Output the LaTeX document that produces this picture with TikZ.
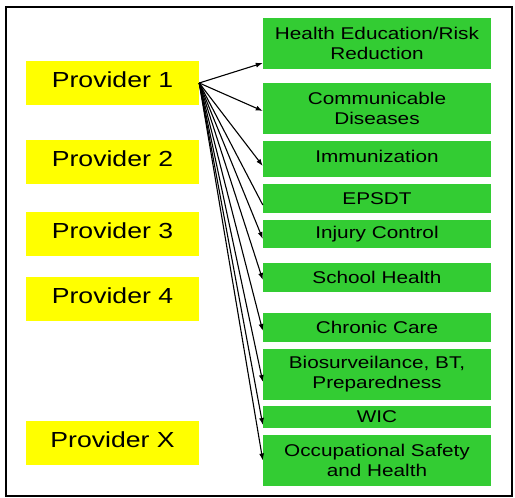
\documentclass[tikz,border=0pt]{standalone}
\usepackage{fontspec}
\setmainfont{Liberation Sans}[FakeStretch=1.22]
\usetikzlibrary{positioning,arrows.meta}
\definecolor{provyellow}{HTML}{FFFF00}
\definecolor{svcgreen}{HTML}{33CC33}
\begin{document}
\begin{tikzpicture}[
  x=1pt, y=1pt,
  provider/.style={rectangle, fill=provyellow, minimum width=173pt, minimum height=44pt, inner sep=0pt, text depth=7pt, font=\fontsize{21.8}{24}\selectfont},
  service/.style={rectangle, fill=svcgreen, minimum width=228pt, inner sep=0pt, align=center, font=\fontsize{17}{20}\selectfont},
  link/.style={->, line width=1.1pt},
  >={Latex[length=7pt,width=5pt]}
]
\useasboundingbox (0,0) rectangle (515,498);
\draw[line width=2pt] (6,2) rectangle (512,491);

\node[provider] (prov1) at (112.5,415) {Provider 1};
\node[provider, below of=prov1, node distance=79pt] (prov2) {Provider 2};
\node[provider, below of=prov2, node distance=72pt] (prov3) {Provider 3};
\node[provider, below of=prov3, node distance=65pt] (prov4) {Provider 4};
\node[provider, below of=prov4, node distance=144pt] (provx) {Provider X};

\node[service, minimum height=51pt] (health) at (377,454.5) {Health Education/Risk\\Reduction};
\node[service, minimum height=51pt, below of=health, node distance=65pt] (commun) {Communicable\\Diseases};
\node[service, minimum height=36pt, text depth=6pt, below of=commun, node distance=50.5pt] (immun) {Immunization};
\node[service, minimum height=29pt, below of=immun, node distance=39.5pt] (epsdt) {EPSDT};
\node[service, minimum height=28pt, below of=epsdt, node distance=35.5pt] (injury) {Injury Control};
\node[service, minimum height=29pt, below of=injury, node distance=43.5pt] (school) {School Health};
\node[service, minimum height=29pt, below of=school, node distance=50pt] (chronic) {Chronic Care};
\node[service, minimum height=51pt, below of=chronic, node distance=47pt] (biosurv) {Biosurveilance, BT,\\Preparedness};
\node[service, minimum height=22pt, below of=biosurv, node distance=42.5pt] (wic) {\raisebox{-4pt}{WIC}};
\node[service, minimum height=51pt, below of=wic, node distance=43.5pt] (occup) {Occupational Safety\\and Health};

\draw[link] (prov1.east) -- ([yshift=-19.5pt]health.west);
\draw[link] (prov1.east) -- ([yshift=-2.5pt]commun.west);
\draw[link] (prov1.east) -- ([yshift=-7pt]immun.west);
\draw[line width=1.1pt] (prov1.east) -- ([yshift=-6.5pt]epsdt.west);
\draw[link] (prov1.east) -- ([yshift=-5pt]injury.west);
\draw[link] (prov1.east) -- ([yshift=-2.5pt]school.west);
\draw[link] (prov1.east) -- ([yshift=-3.5pt]chronic.west);
\draw[link] (prov1.east) -- ([yshift=-7.5pt]biosurv.west);
\draw[link] (prov1.east) -- ([yshift=-8pt]wic.west);
\draw[link] (prov1.east) -- (occup.west);
\end{tikzpicture}
\end{document}
